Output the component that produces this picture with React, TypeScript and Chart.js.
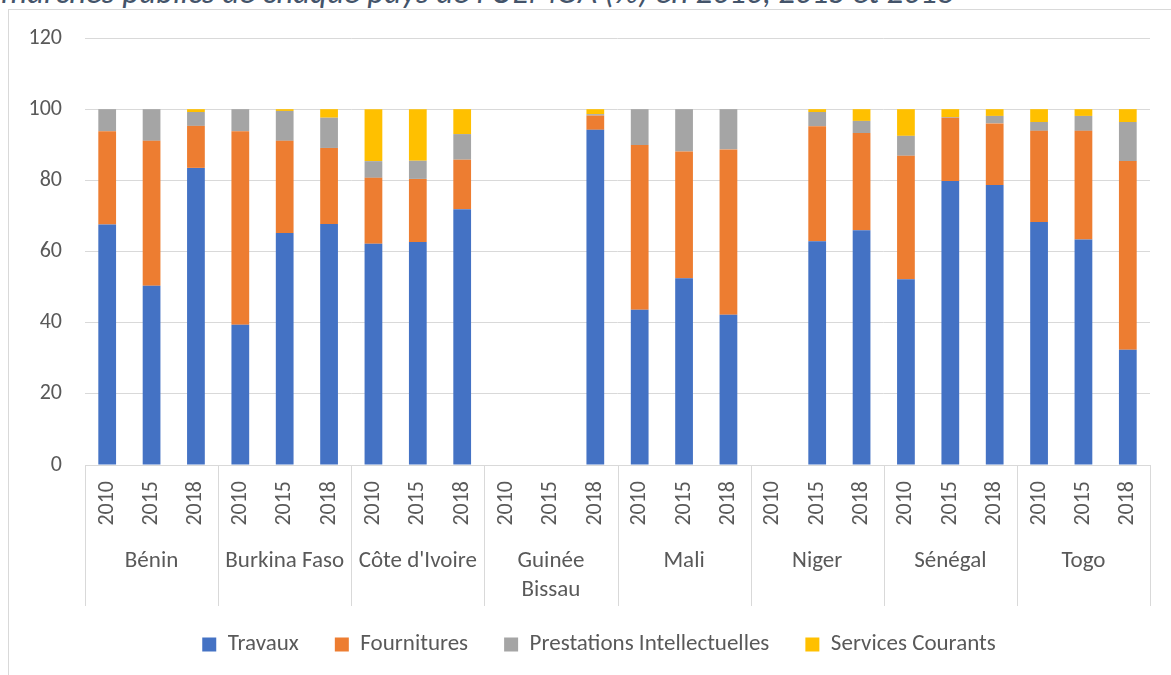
import React, { useEffect, useRef } from 'react';
import { Chart, registerables } from 'chart.js';

Chart.register(...registerables);

const countries: string[][] = [
  ['Bénin'],
  ['Burkina Faso'],
  ["Côte d'Ivoire"],
  ['Guinée', 'Bissau'],
  ['Mali'],
  ['Niger'],
  ['Sénégal'],
  ['Togo'],
];
const years = ['2010', '2015', '2018'];

const travaux = [67.6, 50.4, 83.5, 39.4, 65.2, 67.7, 62.2, 62.7, 71.9, 0, 0, 94.2, 43.6, 52.5, 42.2, 0, 62.9, 66.0, 52.2, 79.8, 78.7, 68.3, 63.4, 32.4];
const fournitures = [26.2, 40.7, 11.8, 54.4, 25.9, 21.4, 18.5, 17.7, 13.9, 0, 0, 4.0, 46.3, 35.6, 46.5, 0, 32.3, 27.3, 34.7, 17.8, 17.3, 25.6, 30.5, 53.0];
const prestations = [6.2, 8.9, 3.9, 6.2, 8.4, 8.5, 4.7, 5.1, 7.2, 0, 0, 0.4, 10.1, 11.9, 11.3, 0, 4.0, 3.4, 5.6, 0.2, 2.1, 2.5, 4.2, 11.0];
const services = [0, 0, 0.8, 0, 0.5, 2.4, 14.6, 14.5, 7.0, 0, 0, 1.4, 0, 0, 0, 0, 0.8, 3.3, 7.5, 2.2, 1.9, 3.6, 1.9, 3.6];

const seriesNames = ['Travaux', 'Fournitures', 'Prestations Intellectuelles', 'Services Courants'];
const seriesColors = ['#4472C4', '#ED7D31', '#A5A5A5', '#FFC000'];

const titleText = "marchés publics de chaque pays de l'UEMOA (%) en 2010, 2015 et 2018";

const FONT = 'Carlito, Calibri, Lato, sans-serif';
const TEXT_COLOR = '#595959';
const GRID_COLOR = '#D9D9D9';

const groupPlugin = {
  id: 'groupLabels',
  afterDraw(chart: any) {
    const { ctx, chartArea } = chart;
    const xs = chart.scales.x;
    const top = chartArea.bottom;
    const lineBottom = top + 141;
    const n = years.length;
    ctx.save();
    ctx.strokeStyle = GRID_COLOR;
    ctx.lineWidth = 1;
    for (let g = 0; g <= countries.length; g++) {
      let x: number;
      if (g === 0) x = chartArea.left;
      else if (g === countries.length) x = chartArea.right;
      else x = (xs.getPixelForValue(g * n - 1) + xs.getPixelForValue(g * n)) / 2;
      x = Math.round(x) + 0.5;
      ctx.beginPath();
      ctx.moveTo(x, top);
      ctx.lineTo(x, lineBottom);
      ctx.stroke();
    }
    ctx.fillStyle = TEXT_COLOR;
    ctx.font = `23px ${FONT}`;
    ctx.textAlign = 'center';
    ctx.textBaseline = 'middle';
    countries.forEach((lines, g) => {
      const cx = xs.getPixelForValue(g * n + 1);
      lines.forEach((line, i) => {
        ctx.fillText(line, cx, top + 96 + i * 29);
      });
    });
    ctx.restore();
  },
};

export default function App() {
  const canvasRef = useRef<HTMLCanvasElement | null>(null);

  useEffect(() => {
    const canvas = canvasRef.current;
    if (!canvas) return;
    const labels: string[] = [];
    countries.forEach(() => years.forEach((y) => labels.push(y)));
    const values = [travaux, fournitures, prestations, services];
    const chart = new Chart(canvas, {
      type: 'bar',
      data: {
        labels,
        datasets: values.map((data, i) => ({
          label: seriesNames[i],
          data,
          backgroundColor: seriesColors[i],
          borderWidth: 0,
          barPercentage: 0.4,
          categoryPercentage: 1,
        })),
      },
      options: {
        responsive: false,
        animation: false,
        devicePixelRatio: 1,
        layout: { padding: { left: 0, right: 0, top: 38, bottom: 94 } },
        plugins: {
          legend: {
            position: 'bottom',
            labels: {
              boxWidth: 14,
              boxHeight: 14,
              padding: 36,
              color: TEXT_COLOR,
              font: { family: FONT, size: 23 },
            },
          },
          tooltip: { enabled: false },
        },
        scales: {
          x: {
            stacked: true,
            grid: { display: false, drawTicks: false },
            border: { display: true, color: GRID_COLOR, width: 1 },
            ticks: {
              color: TEXT_COLOR,
              font: { family: FONT, size: 22 },
              minRotation: 90,
              maxRotation: 90,
              padding: 16,
              autoSkip: false,
            },
            afterFit: (s: any) => {
              s.height = 132;
            },
          },
          y: {
            stacked: true,
            min: 0,
            max: 120,
            ticks: {
              stepSize: 20,
              padding: 23,
              color: TEXT_COLOR,
              font: { family: FONT, size: 22 },
            },
            grid: { color: GRID_COLOR, drawTicks: false },
            border: { display: false },
            afterFit: (s: any) => {
              s.width = 85;
            },
          },
          yRight: {
            position: 'right',
            min: 0,
            max: 120,
            ticks: { display: false },
            grid: { display: false, drawTicks: false },
            border: { display: false },
            afterFit: (s: any) => {
              s.width = 48;
            },
          },
        },
      },
      plugins: [groupPlugin],
    } as any);
    return () => chart.destroy();
  }, []);

  return (
    <div
      style={{
        position: 'fixed',
        left: 0,
        top: 0,
        width: 1171,
        height: 675,
        overflow: 'hidden',
        background: '#fff',
      }}
    >
      <div
        style={{
          position: 'absolute',
          left: 8,
          top: 9,
          width: 2000,
          height: 2000,
          border: `1px solid ${GRID_COLOR}`,
        }}
      />
      <div
        style={{
          position: 'absolute',
          left: 1,
          top: -24,
          fontFamily: FONT,
          fontStyle: 'italic',
          fontSize: 33,
          lineHeight: '33px',
          color: '#44546A',
          whiteSpace: 'nowrap',
        }}
      >
        {titleText}
      </div>
      <canvas
        ref={canvasRef}
        width={1198}
        height={760}
        style={{ position: 'absolute', left: 0, top: 0 }}
      />
    </div>
  );
}
